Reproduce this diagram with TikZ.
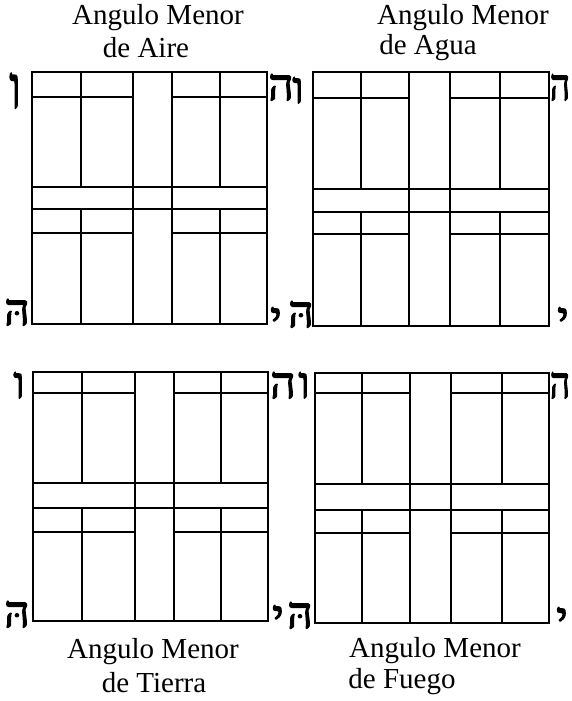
\documentclass[tikz,border=0pt]{standalone}
\usepackage{fontspec}
\setmainfont{Liberation Serif}
\newfontfamily\hebfont[Script=Hebrew,FakeBold=2.5]{Liberation Serif}
\TeXXeTstate=1
\begin{document}
\begin{tikzpicture}[x=1pt,y=-1pt,
  gridline/.style={line width=2.2pt, line cap=rect},
  caption/.style={anchor=base, inner sep=0pt, font=\fontsize{29}{30}\selectfont},
  hebletter/.style={anchor=base, inner sep=0pt, font=\hebfont\fontsize{44}{44}\selectfont}]
\useasboundingbox (0,0) rectangle (571,701);
\foreach \xa/\ya/\xb/\yb/\va/\vb/\vc/\vd/\ht/\hb/\hc/\hl in {
  32/72/267/324/81/133/172/220/97/187/209/233,
  313/72/549/326/361/409/450/500/98/189/212/234,
  33/372/268/621/82/135/174/221/393/483/508/532,
  315/373/549/623/362/410/451/502/393/484/510/533}{
  \draw[gridline] (\xa,\ya) rectangle (\xb,\yb);
  \draw[gridline] (\xa,\ht) -- (\vb,\ht) (\vc,\ht) -- (\xb,\ht);
  \draw[gridline] (\xa,\hb) -- (\xb,\hb) (\xa,\hc) -- (\xb,\hc);
  \draw[gridline] (\xa,\hl) -- (\vb,\hl) (\vc,\hl) -- (\xb,\hl);
  \draw[gridline] (\vb,\ya) -- (\vb,\yb) (\vc,\ya) -- (\vc,\yb);
  \draw[gridline] (\va,\ya) -- (\va,\hb) (\va,\hc) -- (\va,\yb);
  \draw[gridline] (\vd,\ya) -- (\vd,\hb) (\vd,\hc) -- (\vd,\yb);
}
% captions
\node[caption] (t1a) at (158,25) {Angulo Menor};
\node[caption] (t1b) at (146,57) {de Aire};
\node[caption] (t2a) at (463,25) {Angulo Menor};
\node[caption] (t2b) at (428,55) {de Agua};
\node[caption] (t3a) at (153,658) {Angulo Menor};
\node[caption] (t3b) at (154,692) {de Tierra};
\node[caption] (t4a) at (435,657) {Angulo Menor};
\node[caption] (t4b) at (402,688) {de Fuego};
% hebrew letters
\node[hebletter, yscale=1.35] (h1) at (15,108) {\beginR ו\endR};
\node[hebletter] (h2) at (281,100) {\beginR ה\endR};
\node[hebletter] (h3) at (17,325) {\beginR הּ\endR};
\node[hebletter] (h4) at (276,333) {\beginR י\endR};
\node[hebletter] (h5) at (298,103) {\beginR ו\endR};
\node[hebletter, xscale=0.8] (h6) at (560,100) {\beginR ה\endR};
\node[hebletter] (h7) at (301,327) {\beginR הּ\endR};
\node[hebletter] (h8) at (563,333) {\beginR י\endR};
\node[hebletter] (h9) at (19,398) {\beginR ו\endR};
\node[hebletter] (h10) at (283,398) {\beginR ה\endR};
\node[hebletter] (h11) at (17,627) {\beginR הּ\endR};
\node[hebletter] (h12) at (278,631) {\beginR י\endR};
\node[hebletter] (h13) at (304,398) {\beginR ו\endR};
\node[hebletter, xscale=0.8] (h14) at (560,398) {\beginR ה\endR};
\node[hebletter] (h15) at (300,628) {\beginR הּ\endR};
\node[hebletter] (h16) at (562,633) {\beginR י\endR};
\end{tikzpicture}
\end{document}
